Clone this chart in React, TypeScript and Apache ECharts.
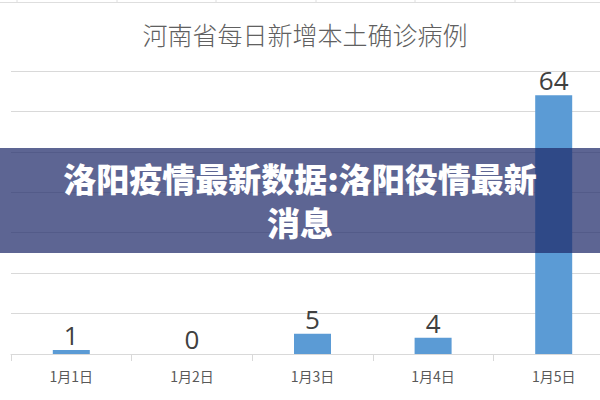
import React, { useEffect, useRef } from "react";
import * as echarts from "echarts";

const categories = ["1月1日", "1月2日", "1月3日", "1月4日", "1月5日"];
const values = [1, 0, 5, 4, 64];
const titleText = "河南省每日新增本土确诊病例";
const bannerLines = ["洛阳疫情最新数据:洛阳役情最新", "消息"];
const topTicks = [17, 117, 216, 316, 415, 515];

export default function App() {
  const ref = useRef<HTMLDivElement>(null);
  useEffect(() => {
    if (!ref.current) return;
    const chart = echarts.init(ref.current, undefined, { renderer: "svg" });
    const bannerText = (text: string, y: number) => ({
      type: "text",
      x: 300,
      y,
      z: 101,
      style: {
        text,
        fill: "#ffffff",
        fontSize: 33,
        fontWeight: 900,
        fontFamily: "Noto Sans CJK SC",
        align: "center",
        verticalAlign: "middle",
      },
      silent: true,
    });
    const graphics: any[] = [
      {
        type: "line",
        shape: { x1: 0, y1: 2.5, x2: 620, y2: 2.5 },
        style: { stroke: "#dedede", lineWidth: 1 },
        silent: true,
      },
      ...topTicks.map((x) => ({
        type: "line",
        shape: { x1: x, y1: 0, x2: x, y2: 3 },
        style: { stroke: "#dedede", lineWidth: 1 },
        silent: true,
      })),
      {
        type: "rect",
        shape: { x: 0, y: 148, width: 620, height: 105 },
        style: { fill: "rgba(30,42,105,0.72)" },
        z: 100,
        silent: true,
      },
      bannerText(bannerLines[0], 178),
      bannerText(bannerLines[1], 222),
    ];
    chart.setOption({
      animation: false,
      backgroundColor: "#ffffff",
      title: {
        text: titleText,
        left: 300,
        textAlign: "center",
        top: 16,
        textStyle: {
          color: "#606060",
          fontSize: 25,
          fontWeight: 300,
          fontFamily: "Noto Sans CJK SC",
        },
      },
      grid: { left: 11, top: 71, width: 603, bottom: 46, containLabel: false },
      xAxis: {
        type: "category",
        data: categories,
        boundaryGap: true,
        axisLine: { show: true, lineStyle: { color: "#d9d9d9", width: 1 } },
        axisTick: { show: true, length: 7, lineStyle: { color: "#d9d9d9" } },
        axisLabel: {
          color: "#595959",
          fontSize: 14,
          margin: 15,
          fontFamily: "Noto Sans CJK SC",
        },
      },
      yAxis: {
        type: "value",
        min: 0,
        max: 70,
        interval: 10,
        axisLine: { show: false },
        axisTick: { show: false },
        axisLabel: { show: false },
        splitLine: { show: true, lineStyle: { color: "#d9d9d9", width: 1 } },
      },
      series: [
        {
          type: "bar",
          data: values,
          barWidth: 37,
          itemStyle: { color: "#5b9bd5" },
          label: {
            show: true,
            position: "top",
            distance: 2,
            color: "#404040",
            fontSize: 26,
            fontFamily: "Open Sans",
          },
        },
      ],
      graphic: graphics,
    });
    return () => chart.dispose();
  }, []);
  return (
    <div
      style={{
        position: "fixed",
        left: 0,
        top: 0,
        width: 600,
        height: 400,
        overflow: "hidden",
      }}
    >
      <div ref={ref} style={{ width: 620, height: 400 }} />
    </div>
  );
}
